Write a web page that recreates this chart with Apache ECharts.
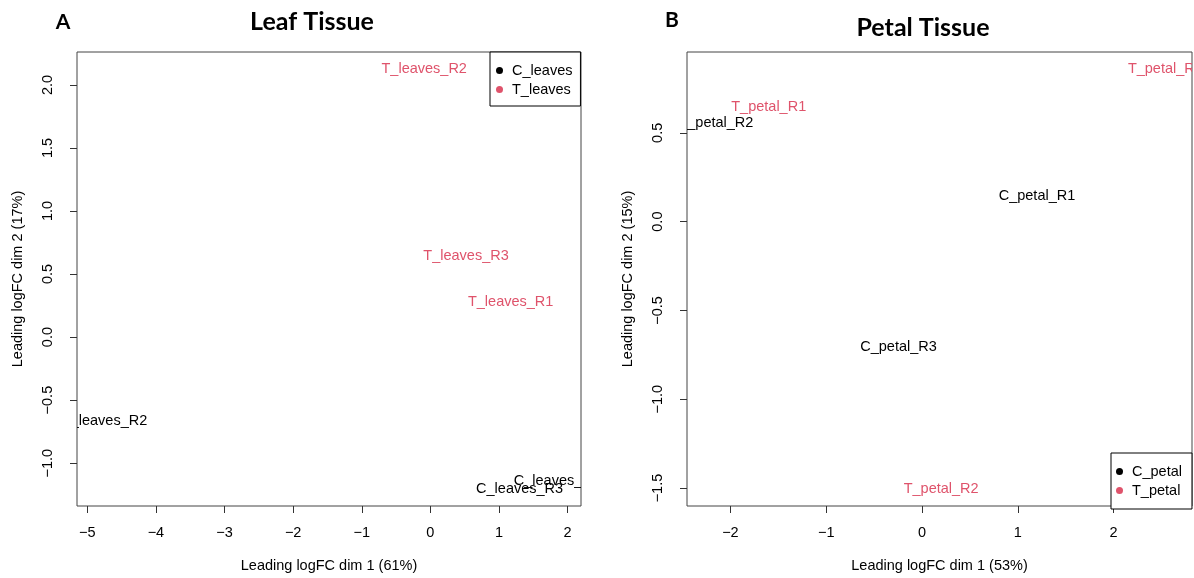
<!DOCTYPE html>
<html>
<head>
<meta charset="utf-8">
<script src="https://cdn.jsdelivr.net/npm/echarts@6/dist/echarts.min.js"></script>
<style>
html,body{margin:0;padding:0;background:#fff;}
#chart{width:1194px;height:578px;}
</style>
</head>
<body>
<div id="chart"></div>
<script>
// ---- Data ----
const leafCLabels = ['C_leaves_R1', 'C_leaves_R2', 'C_leaves_R3'];
const leafCX = [1.85, -4.76, 1.30];
const leafCY = [-1.14, -0.667, -1.207];
const leafTLabels = ['T_leaves_R1', 'T_leaves_R2', 'T_leaves_R3'];
const leafTX = [1.17, -0.09, 0.52];
const leafTY = [0.275, 2.128, 0.64];

const petalCLabels = ['C_petal_R1', 'C_petal_R2', 'C_petal_R3'];
const petalCX = [1.20, -2.16, -0.245];
const petalCY = [0.146, 0.556, -0.708];
const petalTLabels = ['T_petal_R1', 'T_petal_R2', 'T_petal_R3'];
const petalTX = [-1.60, 0.20, 2.54];
const petalTY = [0.646, -1.506, 0.86];

const leafXTicks = [-5, -4, -3, -2, -1, 0, 1, 2];
const leafYTicks = [-1.0, -0.5, 0.0, 0.5, 1.0, 1.5, 2.0];
const petalXTicks = [-2, -1, 0, 1, 2];
const petalYTicks = [-1.5, -1.0, -0.5, 0.0, 0.5];

const leafXRange = [-5.15, 2.195];
const leafYRange = [-1.34, 2.261];
const petalXRange = [-2.453, 2.818];
const petalYRange = [-1.601, 0.955];

const leafGroups = ['C_leaves', 'T_leaves'];
const petalGroups = ['C_petal', 'T_petal'];

// ---- Styling ----
const FONT = '"Liberation Sans", Arial, Helvetica, sans-serif';
const TFONT = 'Lato, "Open Sans", sans-serif';
const BLACK = '#000000';
const RED = '#DF536B';
const FS = 14.5;

function fmtInt(v) { return (v < 0 ? '\u2212' : '') + Math.abs(Math.round(v)); }
function fmt1(v) { const s = Math.abs(v).toFixed(1); return (v < 0 ? '\u2212' : '') + s; }

function rows(xs, ys, labels) { return xs.map((x, i) => [x, ys[i], labels[i]]); }

function textSeries(name, xi, yi, data, color) {
  return {
    type: 'custom', name: name, xAxisIndex: xi, yAxisIndex: yi,
    clip: true, silent: true,
    itemStyle: { color: color },
    data: data,
    renderItem: function (params, api) {
      const p = api.coord([api.value(0), api.value(1)]);
      return {
        type: 'text', x: p[0], y: p[1],
        style: {
          text: data[params.dataIndex][2], fill: color,
          font: FS + 'px ' + FONT, align: 'center', verticalAlign: 'middle'
        }
      };
    }
  };
}

function xAxis(gi, range, ticks, name) {
  return {
    type: 'value', gridIndex: gi, min: range[0], max: range[1], position: 'bottom',
    name: name, nameLocation: 'middle', nameGap: 52,
    nameTextStyle: { fontFamily: FONT, fontSize: FS, color: BLACK },
    axisLine: { show: false, onZero: false },
    axisTick: { show: true, length: 7, customValues: ticks, lineStyle: { color: '#333' } },
    axisLabel: { customValues: ticks, formatter: fmtInt, margin: 19, fontFamily: FONT, fontSize: FS, color: BLACK },
    splitLine: { show: false }
  };
}
function yAxis(gi, range, ticks, name) {
  return {
    type: 'value', gridIndex: gi, min: range[0], max: range[1], position: 'left',
    name: name, nameLocation: 'middle', nameGap: 52,
    nameTextStyle: { fontFamily: FONT, fontSize: FS, color: BLACK },
    axisLine: { show: false, onZero: false },
    axisTick: { show: true, length: 7, customValues: ticks, lineStyle: { color: '#333' } },
    axisLabel: { customValues: ticks, formatter: fmt1, rotate: 90, margin: 22, fontFamily: FONT, fontSize: FS, color: BLACK },
    splitLine: { show: false }
  };
}

function legend(groups, left, top, pad) {
  return {
    data: groups.map(g => ({ name: g, icon: 'circle' })),
    orient: 'vertical', left: left, top: top,
    padding: pad, itemWidth: 15, itemHeight: 7, itemGap: 4,
    borderColor: BLACK, borderWidth: 1, borderRadius: 0, backgroundColor: '#fff',
    selectedMode: false,
    textStyle: { fontFamily: FONT, fontSize: FS, color: BLACK, lineHeight: 14 }
  };
}

const chart = echarts.init(document.getElementById('chart'), null, { renderer: 'canvas' });
chart.setOption({
  backgroundColor: '#ffffff',
  animation: false,
  grid: [
    { left: 77, top: 52, width: 504, height: 455, show: true, borderColor: '#444', borderWidth: 1, backgroundColor: 'transparent' },
    { left: 687, top: 52, width: 505, height: 455, show: true, borderColor: '#444', borderWidth: 1, backgroundColor: 'transparent' }
  ],
  xAxis: [
    xAxis(0, leafXRange, leafXTicks, 'Leading logFC dim 1 (61%)'),
    xAxis(1, petalXRange, petalXTicks, 'Leading logFC dim 1 (53%)')
  ],
  yAxis: [
    yAxis(0, leafYRange, leafYTicks, 'Leading logFC dim 2 (17%)'),
    yAxis(1, petalYRange, petalYTicks, 'Leading logFC dim 2 (15%)')
  ],
  legend: [
    legend(leafGroups, 490, 52, [11, 8, 9, 6]),
    legend(petalGroups, 1111, 453, [11, 10, 11, 5])
  ],
  graphic: [
    { type: 'text', x: 63, y: 22, style: { text: 'A', font: 'bold 21px ' + TFONT, fill: BLACK, align: 'center', verticalAlign: 'middle' } },
    { type: 'text', x: 312, y: 22, style: { text: 'Leaf Tissue', font: 'bold 25px ' + TFONT, fill: BLACK, align: 'center', verticalAlign: 'middle' } },
    { type: 'text', x: 672, y: 20, style: { text: 'B', font: 'bold 21px ' + TFONT, fill: BLACK, align: 'center', verticalAlign: 'middle' } },
    { type: 'text', x: 923, y: 28, style: { text: 'Petal Tissue', font: 'bold 25px ' + TFONT, fill: BLACK, align: 'center', verticalAlign: 'middle' } }
  ],
  series: [
    textSeries('C_leaves', 0, 0, rows(leafCX, leafCY, leafCLabels), BLACK),
    textSeries('T_leaves', 0, 0, rows(leafTX, leafTY, leafTLabels), RED),
    textSeries('C_petal', 1, 1, rows(petalCX, petalCY, petalCLabels), BLACK),
    textSeries('T_petal', 1, 1, rows(petalTX, petalTY, petalTLabels), RED)
  ]
});
</script>
</body>
</html>
